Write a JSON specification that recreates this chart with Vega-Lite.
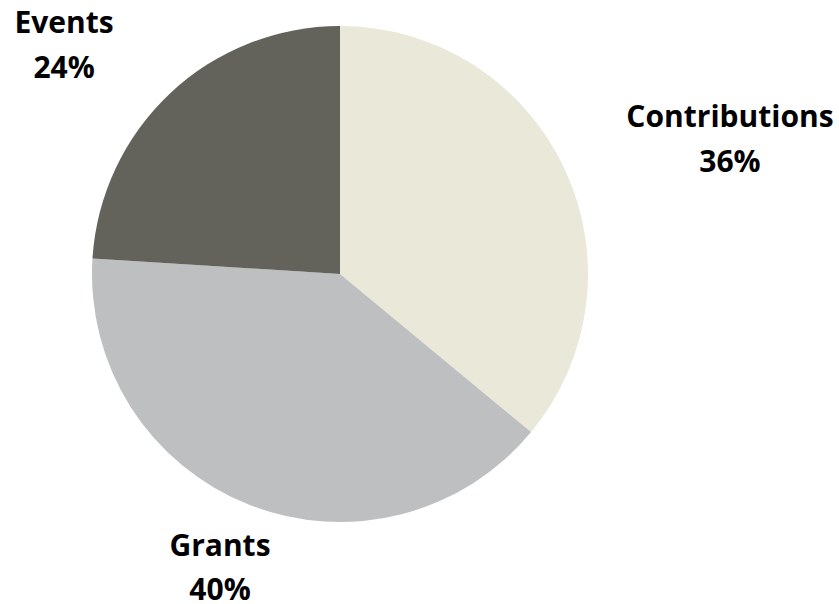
{
  "$schema": "https://vega.github.io/schema/vega-lite/v6.json",
  "width": 680,
  "height": 548,
  "autosize": "none",
  "padding": {"left": 0, "top": 0, "right": 159, "bottom": 56},
  "background": "white",
  "data": {
    "values": [
      {"category": "Contributions", "share": 0.36},
      {"category": "Grants", "share": 0.40},
      {"category": "Events", "share": 0.24}
    ]
  },
  "transform": [
    {"stack": "share", "groupby": [], "as": ["s0", "s1"]},
    {"calculate": "(datum.s0 + datum.s1) / 2", "as": "mid"},
    {"calculate": "[datum.category, format(datum.share, '.0%')]", "as": "label"}
  ],
  "layer": [
    {
      "mark": {"type": "arc", "outerRadius": 248},
      "encoding": {
        "theta": {"field": "s0", "type": "quantitative", "scale": {"domain": [0, 1]}},
        "theta2": {"field": "s1"},
        "color": {
          "field": "category",
          "type": "nominal",
          "scale": {"domain": ["Contributions", "Grants", "Events"], "range": ["#EAE8D9", "#BEBFC1", "#63635B"]},
          "legend": null
        }
      }
    },
    {
      "transform": [{"filter": "datum.category === 'Contributions'"}],
      "mark": {"type": "text", "radius": 431, "dy": 37, "align": "center", "baseline": "alphabetic", "font": "Open Sans", "fontWeight": "bold", "fontSize": 30, "lineHeight": 45, "color": "#000000"},
      "encoding": {
        "theta": {"field": "mid", "type": "quantitative", "scale": {"domain": [0, 1]}},
        "text": {"field": "label"}
      }
    },
    {
      "transform": [{"filter": "datum.category === 'Grants'"}],
      "mark": {"type": "text", "radius": 326, "dy": -21, "align": "center", "baseline": "alphabetic", "font": "Open Sans", "fontWeight": "bold", "fontSize": 30, "lineHeight": 44, "color": "#000000"},
      "encoding": {
        "theta": {"field": "mid", "type": "quantitative", "scale": {"domain": [0, 1]}},
        "text": {"field": "label"}
      }
    },
    {
      "transform": [{"filter": "datum.category === 'Events'"}],
      "mark": {"type": "text", "radius": 403, "dy": 53, "align": "center", "baseline": "alphabetic", "font": "Open Sans", "fontWeight": "bold", "fontSize": 30, "lineHeight": 45, "color": "#000000"},
      "encoding": {
        "theta": {"field": "mid", "type": "quantitative", "scale": {"domain": [0, 1]}},
        "text": {"field": "label"}
      }
    }
  ],
  "config": {"view": {"stroke": null}}
}
